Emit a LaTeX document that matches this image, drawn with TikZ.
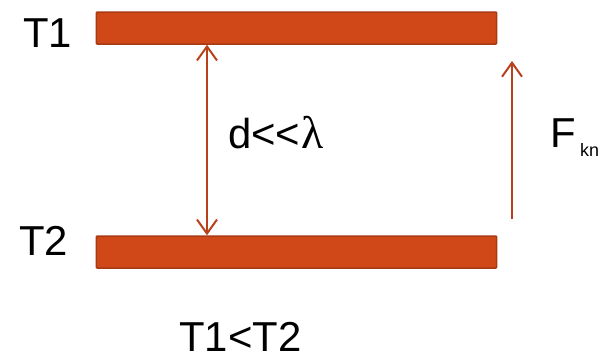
\documentclass[tikz,border=0pt]{standalone}
\usepackage{fontspec}
\setmainfont{Liberation Sans}
\newfontfamily\lamfont{Liberation Serif}
\usetikzlibrary{arrows.meta}
\definecolor{barfill}{HTML}{D14818}
\definecolor{bardraw}{HTML}{A83A14}
\definecolor{arrowc}{HTML}{B8401A}
\begin{document}
\begin{tikzpicture}[x=1bp,y=-1bp,
  plate/.style={draw=bardraw, fill=barfill, line width=1.5bp, minimum width=400bp, minimum height=32bp, inner sep=0, rounded corners=0.8bp},
  lbl/.style={anchor=base west, inner sep=0, font=\fontsize{42}{48}\selectfont},
  conn/.style={draw=arrowc, line width=2bp, {Straight Barb[length=14bp,width=20bp,line width=2bp]}-{Straight Barb[length=14bp,width=20bp,line width=2bp]}},
  conn1/.style={draw=arrowc, line width=2bp, -{Straight Barb[length=14bp,width=20bp,line width=2bp]}}]
\useasboundingbox (0,0) rectangle (608,354);
\node[plate] (top) at (296.5,28) {};
\node[plate] (bot) at (296.5,252) {};
\node[lbl] (t1) at (23,47) {T1};
\node[lbl] (t2) at (19,255) {T2};
\node[lbl] (d) at (228,148) {d<\kern0pt<\kern1bp{\lamfont\fontsize{46}{50}\selectfont λ}};
\node[lbl] (f) at (550,147) {F};
\node[anchor=base west, inner sep=0, font=\fontsize{18}{20}\selectfont] (kn) at (580,156) {kn};
\node[lbl] (cmp) at (179,351) {T1<T2};
\draw[conn] ([xshift=-89.5bp]top.south) -- ([xshift=-89.5bp]bot.north);
\coordinate (fa) at (512,219);
\coordinate (fb) at (512,61);
\draw[conn1] (fa) -- (fb);
\end{tikzpicture}
\end{document}
